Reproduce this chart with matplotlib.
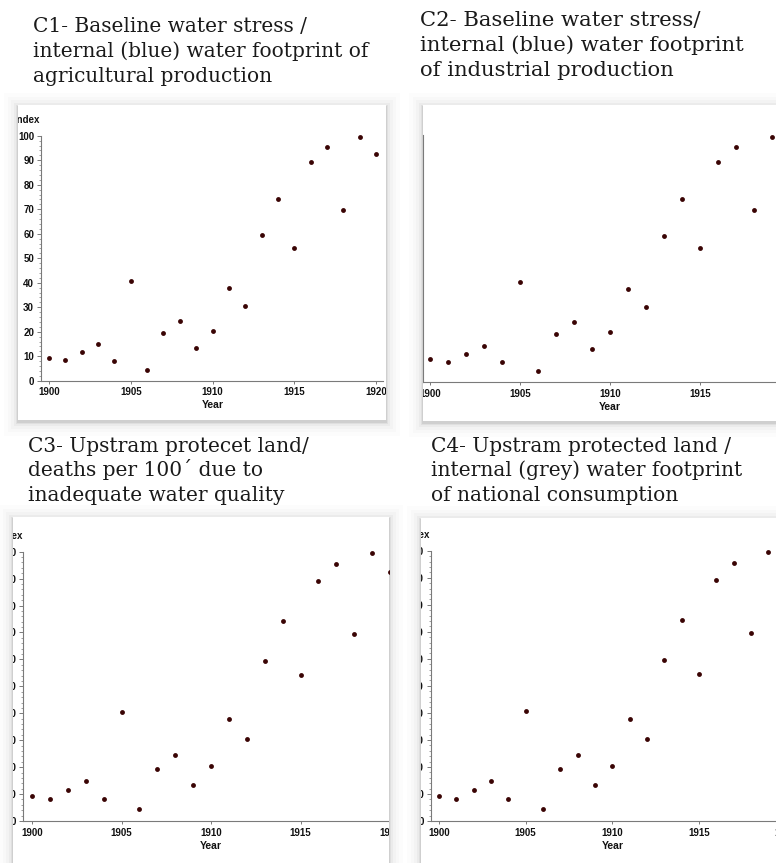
import matplotlib
matplotlib.use("Agg")
import matplotlib.pyplot as plt
from matplotlib.patches import Rectangle
from matplotlib.transforms import Bbox, TransformedBbox
from matplotlib.ticker import MultipleLocator

W, H = 776, 863

# ---------------- data ----------------
years = [1900, 1901, 1902, 1903, 1904, 1905, 1906, 1907, 1908, 1909, 1910,
         1911, 1912, 1913, 1914, 1915, 1916, 1917, 1918, 1919, 1920]
c1_values = [9.4, 8.3, 11.6, 14.9, 8.2, 40.6, 4.4, 19.4, 24.5, 13.4, 20.3,
             37.7, 30.4, 59.4, 74.3, 54.3, 89.3, 95.3, 69.6, 99.5, 92.4]
c2_values = [9.4, 8.3, 11.6, 14.9, 8.2, 40.6, 4.4, 19.4, 24.5, 13.4, 20.3,
             37.7, 30.4, 59.4, 74.3, 54.3, 89.3, 95.3, 69.6, 99.5, 92.4]
c3_values = [9.4, 8.3, 11.6, 14.9, 8.2, 40.6, 4.4, 19.4, 24.5, 13.4, 20.3,
             37.7, 30.4, 59.4, 74.3, 54.3, 89.3, 95.3, 69.6, 99.5, 92.4]
c4_values = [9.4, 8.3, 11.6, 14.9, 8.2, 40.6, 4.4, 19.4, 24.5, 13.4, 20.3,
             37.7, 30.4, 59.4, 74.3, 54.3, 89.3, 95.3, 69.6, 99.5, 92.4]
x_ticks = [1900, 1905, 1910, 1915, 1920]
y_ticks = [0, 10, 20, 30, 40, 50, 60, 70, 80, 90, 100]
x_label = "Year"
y_label = "Index"
c1_title = ["C1- Baseline water stress /",
            "internal (blue) water footprint of",
            "agricultural production"]
c2_title = ["C2- Baseline water stress/",
            "internal (blue) water footprint",
            "of industrial production"]
c3_title = ["C3- Upstram protecet land/",
            "deaths per 100\u00b4 due to",
            "inadequate water quality"]
c4_title = ["C4- Upstram protected land /",
            "internal (grey) water footprint",
            "of national consumption"]
# --------------------------------------

PX = 0.72  # points per pixel at 100 dpi


def fx(px):
    return px / W


def fy(py):
    return 1 - py / H


fig = plt.figure(figsize=(W / 100, H / 100), dpi=100)
fig.patch.set_facecolor("white")

panels = [
    dict(vals=c1_values, title=c1_title, tx=33, tb=[32, 57, 82], tscale=1.0,
         box=(18, 105, 386, 420), spine=41, x0=49, ppy=16.35, right=383,
         y0=380.7, ppu=2.449),
    dict(vals=c2_values, title=c2_title, tx=420, tb=[26, 51, 76], tscale=1.05,
         box=(423, 105, 776, 421), spine=423.4, x0=430, ppy=18.0, right=800,
         y0=382.3, ppu=2.469),
    dict(vals=c3_values, title=c3_title, tx=28, tb=[452, 476, 501], tscale=1.0,
         box=(13, 517, 389, 863), spine=23.3, x0=32, ppy=17.9, right=400,
         y0=821, ppu=2.693),
    dict(vals=c4_values, title=c4_title, tx=431, tb=[452, 476, 501], tscale=1.0,
         box=(421, 518, 776, 863), spine=430.7, x0=439, ppy=17.33, right=800,
         y0=821, ppu=2.703),
]

axes_list = []
title_texts = []
for p in panels:
    bx0, by0, bx1, by1 = p["box"]
    # soft drop shadow
    for k, a in [(14, 0.010), (10, 0.014), (7, 0.02), (4, 0.03), (2, 0.05), (1, 0.07)]:
        fig.patches.append(Rectangle((fx(bx0 - k), fy(by1 + k + 2)),
                                     (bx1 - bx0 + 2 * k) / W,
                                     (by1 - by0 + 2 * k) / H,
                                     transform=fig.transFigure, facecolor="black",
                                     alpha=a, lw=0, zorder=-3))
    fig.patches.append(Rectangle((fx(bx0), fy(by1)), (bx1 - bx0) / W, (by1 - by0) / H,
                                 transform=fig.transFigure, facecolor="white",
                                 lw=0, zorder=-2))

    top = p["y0"] - 100 * p["ppu"]
    ax = fig.add_axes([fx(p["spine"]), fy(p["y0"]),
                       (p["right"] - p["spine"]) / W, (p["y0"] - top) / H])
    ax.set_xlim(1900 - (p["x0"] - p["spine"]) / p["ppy"],
                1900 + (p["right"] - p["x0"]) / p["ppy"])
    ax.set_ylim(0, 100)
    ax.patch.set_alpha(0)
    ax.plot(years, p["vals"], "o", ms=3.5, color="#3a0404", mew=0)
    for s in ["top", "right"]:
        ax.spines[s].set_visible(False)
    for s in ["left", "bottom"]:
        ax.spines[s].set_color("#7a7a7a")
        ax.spines[s].set_linewidth(0.8)
    ax.set_xticks(x_ticks)
    ax.set_yticks(y_ticks)
    ax.yaxis.set_minor_locator(MultipleLocator(2))
    ax.tick_params(axis="both", which="major", colors="#7a7a7a",
                   labelcolor="#111111", labelsize=7, width=0.7)
    ax.tick_params(axis="y", which="major", length=3, pad=2)
    ax.tick_params(axis="y", which="minor", length=1.6, width=0.5, colors="#7a7a7a")
    ax.tick_params(axis="x", which="major", length=2.5, pad=2.2)
    for lab in ax.get_xticklabels() + ax.get_yticklabels():
        lab.set_fontfamily("Liberation Sans")
        lab.set_fontweight("bold")
    ax.annotate(x_label, xy=(1910, 0), xycoords=("data", "axes fraction"),
                xytext=(0, -24.5 * PX), textcoords="offset points",
                ha="center", va="center", fontsize=7.5, fontweight="bold",
                family="Liberation Sans", color="#111111")
    ax.annotate(y_label, xy=(0, 1), xycoords="axes fraction",
                xytext=(-1 * PX, 16 * PX), textcoords="offset points",
                ha="right", va="center", fontsize=7, fontweight="bold",
                family="Liberation Sans", color="#111111")
    axes_list.append((ax, p["box"]))

    for line, b in zip(p["title"], p["tb"]):
        t = fig.text(fx(p["tx"]), fy(b), line, family="DejaVu Serif",
                     fontsize=14, va="baseline", ha="left", color="#1a1a1a")
        title_texts.append((t, p["tscale"]))

# fit title font size so the widest C1 line matches the reference width
fig.canvas.draw()
renderer = fig.canvas.get_renderer()
w = title_texts[1][0].get_window_extent(renderer).width
size = 14 * 336.0 / w
for t, sc in title_texts:
    t.set_fontsize(size * sc)

# clip every panel's content to its screenshot box
fig.canvas.draw()
for ax, (bx0, by0, bx1, by1) in axes_list:
    bb = TransformedBbox(Bbox([[fx(bx0), fy(by1)], [fx(bx1), fy(by0)]]), fig.transFigure)
    for art in ax.findobj():
        if art is ax or art is ax.patch:
            continue
        try:
            art.set_clip_path(None)
        except Exception:
            pass
        art.set_clip_box(bb)
        art.set_clip_on(True)

fig.savefig("out.png", dpi=100)
